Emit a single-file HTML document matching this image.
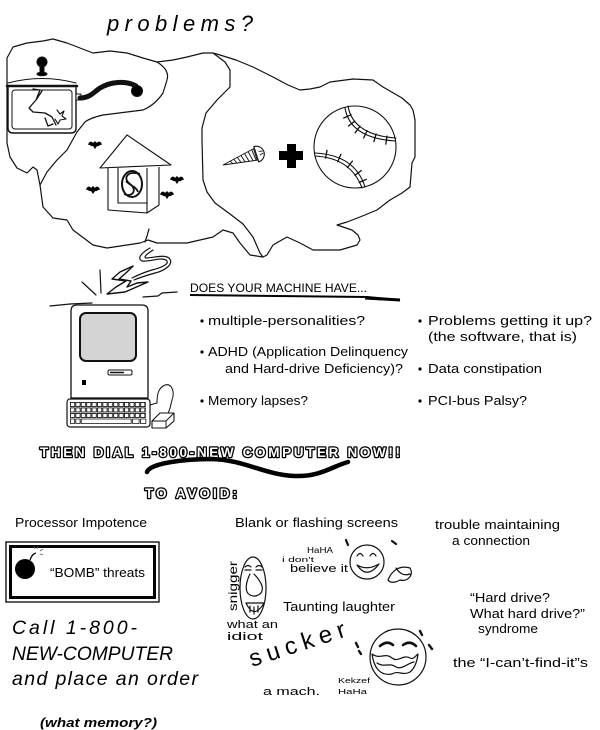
<!DOCTYPE html>
<html><head><meta charset="utf-8"><style>
html,body{margin:0;padding:0;background:#fff;}
svg{display:block;}
text{font-family:"Liberation Sans",sans-serif;fill:#000;}
</style></head><body>
<svg width="600" height="730" viewBox="0 0 600 730" xmlns="http://www.w3.org/2000/svg">
<defs>
<pattern id="keys" x="70" y="402" width="5.4" height="5.5" patternUnits="userSpaceOnUse">
<rect x="0.4" y="0.4" width="4.3" height="4.1" fill="none" stroke="#000" stroke-width="0.8"/>
</pattern>
</defs>
<rect width="600" height="730" fill="#fff"/>

<text x="107" y="31" font-size="22" font-style="italic" textLength="146" lengthAdjust="spacing">problems?</text>

<!-- cloud -->
<g fill="none" stroke="#111" stroke-width="1.2" stroke-linejoin="round" stroke-linecap="round">
<path d="M7,58 L13,47 L27,43 L43,41 L53,39 L67,43 L80,48 L93,53 L110,51 L127,53 L143,58 L157,62 L173,60 L187,57 L203,53 L213,53 L220,55 L236,60 L253,67 L273,77 L288,85 L300,90 L310,89 L320,87 L330,82 L353,79 L373,80 L383,87 L402,98 L410,105 L413,110 L415,120 L415,157 L412,163 L411,175 L410,187 L402,193 L390,200 L377,210 L360,217 L347,222 L337,225 L352,230 L358,235 L360,240 L357,245 L340,250 L313,250 L300,243 L287,237 L273,245 L267,255 L263,257 L250,255 L240,243 L233,233 L223,230 L213,237 L200,240 L187,243 L157,243 L148,240 L140,243 L127,245 L107,248 L93,245 L73,230 L67,220 L53,218 L43,207 L40,185 L37,170 L33,167 L27,173 L17,168 L10,157 L7,143 L7,130 Z"/>
<path d="M157,62 Q170,70 167,80 L163,93 Q155,105 143,110 L103,115 Q90,118 85,122 L77,132 L67,150 L57,160 L47,172 L40,185"/>
<path d="M213,53 L225,62 L230,70 L230,87 L217,100 L206,113 L202,128 L202,140 L203,180 L207,192 L215,203 L230,214 L243,224 L253,237 L260,253 L263,257"/>
<path d="M149,229 L147,236 L145,242"/>
</g>

<!-- pot -->
<g stroke="#111" stroke-linecap="round" stroke-linejoin="round">
<circle cx="42" cy="62" r="5" fill="#000"/>
<rect x="40" y="65" width="4" height="8" fill="#000"/>
<ellipse cx="42" cy="74" rx="5" ry="1.8" fill="#000"/>
<path d="M8,83 Q42,74 76,83" fill="none" stroke-width="1"/>
<path d="M8,86 L8,128 Q8,133 13,133 L71,133 Q76,133 76,128 L76,86" fill="#fff" stroke-width="1.4"/>
<line x1="7" y1="86" x2="77" y2="86" stroke-width="2.5"/>
<rect x="12" y="90" width="60" height="39" rx="3" fill="none" stroke-width="1"/>
<rect x="76" y="94" width="5" height="6" fill="#fff" stroke-width="1"/>
<path d="M80,98 C90,98 94,92 100,88 C110,82 125,80 136,86" fill="none" stroke-width="5"/>
<circle cx="137" cy="91" r="5.5" fill="#000"/>
<path d="M33,89 L40,90 L36,100 L29,108 L33,112 L45,113 L52,117 M36,100 L42,91 M45,118 L48,126 L53,124 M52,117 L56,125" fill="none" stroke-width="1.3"/>
<path d="M57,110 L60,114 L64,111 L62,116 L66,119 L60,120 L58,124 L55,119" fill="none" stroke-width="1.1"/>
</g>

<!-- house -->
<g fill="none" stroke="#111" stroke-width="1.1" stroke-linejoin="round">
<polygon points="127,135 100,168 171,165" fill="#fff"/>
<path d="M108,168 L108,210 L147,213 L147,168"/>
<path d="M118,168 L118,203 L147,203"/>
<path d="M147,213 L159,205 L159,167"/>
<ellipse cx="132" cy="184" rx="10" ry="13" stroke-width="2"/>
<path d="M140,174 C128,170 122,178 130,184 C138,190 132,198 124,194 M126,181 C130,186 136,186 138,192" stroke-width="1.8"/>
</g>

<!-- bats -->
<g fill="#000">
<path transform="translate(95,145)" d="M-7,0 C-6,-4 -3,-4 -2,-2 L0,-4 L2,-2 C3,-4 6,-4 7,0 C5,-1 4,2 2,1 L0,4 L-2,1 C-4,2 -5,-1 -7,0 Z"/>
<path transform="translate(93,190)" d="M-7,0 C-6,-4 -3,-4 -2,-2 L0,-4 L2,-2 C3,-4 6,-4 7,0 C5,-1 4,2 2,1 L0,4 L-2,1 C-4,2 -5,-1 -7,0 Z"/>
<path transform="translate(177,180)" d="M-7,0 C-6,-4 -3,-4 -2,-2 L0,-4 L2,-2 C3,-4 6,-4 7,0 C5,-1 4,2 2,1 L0,4 L-2,1 C-4,2 -5,-1 -7,0 Z"/>
<path transform="translate(167,195)" d="M-7,0 C-6,-4 -3,-4 -2,-2 L0,-4 L2,-2 C3,-4 6,-4 7,0 C5,-1 4,2 2,1 L0,4 L-2,1 C-4,2 -5,-1 -7,0 Z"/>
</g>

<!-- screw -->
<g transform="translate(223,165) rotate(-18)" fill="none" stroke="#111" stroke-width="0.9">
<polygon points="0,0 34,-6 34,6" fill="#fff"/>
<path d="M8,-1.5 L10,2 M12,-2.3 L14,3 M16,-3 L18,3.5 M20,-3.6 L22,4 M24,-4.3 L26,4.6 M28,-5 L30,5.3 M32,-5.6 L33,5.8"/>
<path d="M35,-8 A8,8 0 0 1 35,8 Z" fill="#fff" stroke-width="1.1"/>
<path d="M38,-2 L42,-1 M38,2 L42,1"/>
</g>

<!-- plus -->
<rect x="287" y="144" width="9" height="24" fill="#000"/>
<rect x="279" y="151" width="24" height="9" fill="#000"/>

<!-- baseball -->
<g fill="none" stroke="#111" stroke-width="1.1" stroke-linecap="round">
<circle cx="355" cy="147" r="41"/>
<path d="M345,108 Q350,138 395,141"/>
<path d="M348,106 Q353,135 396,138"/>
<path d="M315,153 Q355,155 365,187"/>
<path d="M315,156 Q351,158 362,188"/>
<g stroke-width="1.3">
<path d="M343.7,118 L351.1,114.8 M348.4,126 L354.8,121.2 M355.2,132.7 L360,126.3 M363.7,137.9 L367.1,130.7 M373.9,141.6 L376.1,134 M385.8,144.1 L387,136.1"/>
<path d="M325.6,158.1 L327,150.3 M337.7,161.7 L340.9,154.3 M347.4,167.5 L352.4,161.1 M354.9,175.2 L361.3,170.6 M359.1,182.5 L366.3,179.3"/>
</g>
</g>

<!-- smoke / lightning -->
<g fill="none" stroke="#111" stroke-width="1.2" stroke-linejoin="round" stroke-linecap="round">
<path d="M150,248 C143,252 136,258 142,261 C150,262 160,257 166,260 C171,264 160,268 152,270 C145,272 138,275 132,278"/>
<path d="M153,250 C147,254 143,257 146,258 C154,258 163,254 169,258 C175,264 164,271 155,273 C148,275 141,277 134,280"/>
<path d="M133,266 L120,272 L112,279 L126,281 L116,287 L107,294 L125,292 L148,282 L137,283 L127,287 L131,281 L119,279 L127,272 Z" stroke-width="1.4"/>
<path d="M100,270 L101,293 M82,282 L96,295"/>
<path d="M50,306 L70,304 L92,303 M143,297 L158,296 L162,293 L177,292"/>
</g>

<!-- computer -->
<g stroke="#111" stroke-linejoin="round">
<path d="M71,398 L71,311 Q71,305 77,305 L142,305 Q148,305 148,311 L148,398 Z" fill="#fff" stroke-width="1.3"/>
<rect x="80" y="313" width="56" height="48" rx="6" fill="#d4d4d4" stroke-width="2"/>
<rect x="108" y="370" width="24" height="5" rx="1.5" fill="#fff" stroke-width="1"/>
<line x1="110" y1="372.5" x2="124" y2="372.5" stroke-width="1.5"/>
<rect x="82" y="380" width="4" height="5" fill="#000" stroke="none"/>
<rect x="67" y="399" width="83" height="28" rx="3" fill="#fff" stroke-width="1.2"/>
<rect x="70" y="402" width="76" height="16.5" fill="url(#keys)" stroke="none"/>
<g fill="none" stroke-width="0.8">
<rect x="70.4" y="419" width="4.3" height="4.5"/>
<rect x="75.8" y="419" width="4.3" height="4.5"/>
<rect x="81.2" y="419" width="50" height="4.5"/>
<rect x="132.6" y="419" width="6.5" height="4.5"/>
<rect x="140.4" y="419" width="5.5" height="4.5"/>
</g>
<path d="M152,421 L160,413 L174,413 L174,421 L166,428 L152,428 Z" fill="#fff" stroke-width="1.1"/>
<path d="M152,421 L166,421 L174,413 M166,421 L166,428" fill="none" stroke-width="0.9"/>
<path d="M150,405 L157,403 C157,395 158,388 165,385 C172,383 175,392 172,400 C170,408 170,410 168,413" fill="none" stroke-width="1"/>
</g>

<!-- machine text -->
<text x="190" y="292" font-size="12" textLength="177" lengthAdjust="spacingAndGlyphs">DOES YOUR MACHINE HAVE...</text>
<path d="M190,295 Q280,296 367,297 L400,300" fill="none" stroke="#000" stroke-width="2"/>
<path d="M365,298 L400,300" stroke="#000" stroke-width="3"/>

<g fill="#000">
<circle cx="202" cy="321" r="1.6"/>
<circle cx="202" cy="352" r="1.6"/>
<circle cx="202" cy="401" r="1.6"/>
<circle cx="420" cy="321" r="1.6"/>
<circle cx="420" cy="369" r="1.6"/>
<circle cx="420" cy="401" r="1.6"/>
</g>
<g font-size="13">
<text x="208" y="325" textLength="157" lengthAdjust="spacingAndGlyphs">multiple-personalities?</text>
<text x="208" y="356" textLength="200" lengthAdjust="spacingAndGlyphs">ADHD (Application Delinquency</text>
<text x="225" y="373" textLength="178" lengthAdjust="spacingAndGlyphs">and Hard-drive Deficiency)?</text>
<text x="208" y="405" textLength="100" lengthAdjust="spacingAndGlyphs">Memory lapses?</text>
<text x="428" y="325" textLength="164" lengthAdjust="spacingAndGlyphs">Problems getting it up?</text>
<text x="428" y="341" textLength="149" lengthAdjust="spacingAndGlyphs">(the software, that is)</text>
<text x="428" y="373" textLength="114" lengthAdjust="spacingAndGlyphs">Data constipation</text>
<text x="428" y="405" textLength="99" lengthAdjust="spacingAndGlyphs">PCI-bus Palsy?</text>
</g>

<!-- call to action -->
<text x="40" y="457" font-size="13.5" font-weight="bold" textLength="360" lengthAdjust="spacing" style="fill:#fff;stroke:#000;stroke-width:2.6;paint-order:stroke;stroke-linejoin:round">THEN DIAL 1-800-NEW COMPUTER NOW!!</text>
<path d="M147,472 C150,463 185,459 212,459 C245,460 265,475 295,476 C320,477 333,466 348,462" fill="none" stroke="#000" stroke-width="4.5" stroke-linecap="round" stroke-linejoin="round"/>
<text x="145" y="498" font-size="13.5" font-weight="bold" textLength="92" lengthAdjust="spacing" style="fill:#fff;stroke:#000;stroke-width:2.6;paint-order:stroke;stroke-linejoin:round">TO AVOID:</text>

<!-- to avoid list -->
<g font-size="13">
<text x="15" y="527" textLength="132" lengthAdjust="spacingAndGlyphs">Processor Impotence</text>
<text x="235" y="527" textLength="163" lengthAdjust="spacingAndGlyphs">Blank or flashing screens</text>
<text x="435" y="529" textLength="125" lengthAdjust="spacingAndGlyphs">trouble maintaining</text>
<text x="452" y="545" textLength="78" lengthAdjust="spacingAndGlyphs">a connection</text>
<text x="283" y="611" textLength="112" lengthAdjust="spacingAndGlyphs">Taunting laughter</text>
<text x="470" y="602" textLength="80" lengthAdjust="spacingAndGlyphs">“Hard drive?</text>
<text x="470" y="618" textLength="115" lengthAdjust="spacingAndGlyphs">What hard drive?”</text>
<text x="478" y="633" textLength="60" lengthAdjust="spacingAndGlyphs">syndrome</text>
<text x="453" y="667" textLength="135" lengthAdjust="spacingAndGlyphs">the “I-can’t-find-it”s</text>
<text x="50" y="577" textLength="95" lengthAdjust="spacingAndGlyphs">“BOMB” threats</text>
</g>

<!-- bomb box -->
<rect x="6" y="542" width="153" height="60" fill="none" stroke="#000" stroke-width="1.3"/>
<rect x="10.5" y="546.5" width="144" height="51" fill="none" stroke="#000" stroke-width="3"/>
<circle cx="25" cy="569" r="10" fill="#000"/>
<path d="M30,560 Q32,554 36,553" fill="none" stroke="#000" stroke-width="1.2"/>
<path d="M37,549 L38,546 M40,551 L43,549 M40,554 L43,555 M35,549 L34,546" stroke="#555" stroke-width="0.8"/>

<!-- call text -->
<g font-style="italic" font-size="19.5">
<text x="12" y="634" textLength="125" lengthAdjust="spacing">Call 1-800-</text>
<text x="12" y="660" textLength="161" lengthAdjust="spacingAndGlyphs">NEW-COMPUTER</text>
<text x="12" y="685" textLength="186" lengthAdjust="spacing">and place an order</text>
</g>
<text x="40" y="727" font-size="13" font-style="italic" font-weight="bold" textLength="117" lengthAdjust="spacingAndGlyphs">(what memory?)</text>

<!-- faces -->
<g fill="none" stroke="#111" stroke-width="1.2" stroke-linecap="round" stroke-linejoin="round">
<circle cx="367" cy="562" r="17"/>
<path d="M357,556 Q360,551 363,556 M370,556 Q373,551 376,556"/>
<path d="M357,565 Q367,580 379,564 Q367,571 357,565 Z"/>
<path d="M346,540 L348,545 M392,541 L396,544" stroke-width="2.2"/>
<path d="M388,580 C392,570 400,565 410,568 C414,575 408,582 400,580 C395,583 390,583 388,580 Z M396,568 C400,574 404,576 410,574"/>

<ellipse cx="253" cy="588" rx="13" ry="31"/>
<path d="M245,567 Q248,564 251,567 M256,567 Q259,564 262,567 M245,570 L251,570 M256,570 L262,570"/>
<path d="M250,574 C246,582 244,592 250,595 C256,598 264,594 262,586 C260,580 256,576 254,574"/>
<path d="M246,603 Q254,620 264,603 Z M250,606 L250,612 M254,607 L254,614 M258,606 L258,612"/>

<circle cx="398" cy="657" r="28"/>
<path d="M380,646 Q387,640 393,645 M403,645 Q410,640 416,646" stroke-width="2.6"/>
<path d="M372,654 C380,660 385,652 392,658 C398,663 403,654 410,658 C414,660 416,655 418,654 C417,662 415,668 410,672 C403,676 398,670 392,674 C380,676 374,668 372,654 Z"/>
<path d="M377,663 C384,668 390,662 396,667 C402,670 408,663 414,662"/>
<path d="M356,643 L358,647 M359,651 L361,654 M420,631 L422,635 M429,645 L432,649" stroke-width="2.4"/>
</g>

<!-- handwriting -->
<g font-size="8">
<text x="307" y="553" textLength="26" lengthAdjust="spacingAndGlyphs">HaHA</text>
<text x="282" y="562" font-size="7" textLength="32" lengthAdjust="spacingAndGlyphs">i don't</text>
<text x="290" y="572" font-size="11" textLength="58" lengthAdjust="spacingAndGlyphs">believe it</text>
<text transform="translate(237,611) rotate(-90)" font-size="12" textLength="50" lengthAdjust="spacingAndGlyphs">snigger</text>
<text x="227" y="628" font-size="11" textLength="51" lengthAdjust="spacingAndGlyphs">what an</text>
<text x="227" y="640" font-size="11" textLength="36" lengthAdjust="spacingAndGlyphs">idiot</text>
<text transform="translate(252,667) rotate(-18)" font-size="24" textLength="100" lengthAdjust="spacing">sucker</text>
<text x="263" y="695" font-size="11" textLength="57" lengthAdjust="spacingAndGlyphs">a mach.</text>
<text x="338" y="683" font-size="7" textLength="32" lengthAdjust="spacingAndGlyphs">Kekzef</text>
<text x="338" y="694" font-size="7" textLength="29" lengthAdjust="spacingAndGlyphs">HaHa</text>
</g>
</svg>
</body></html>
